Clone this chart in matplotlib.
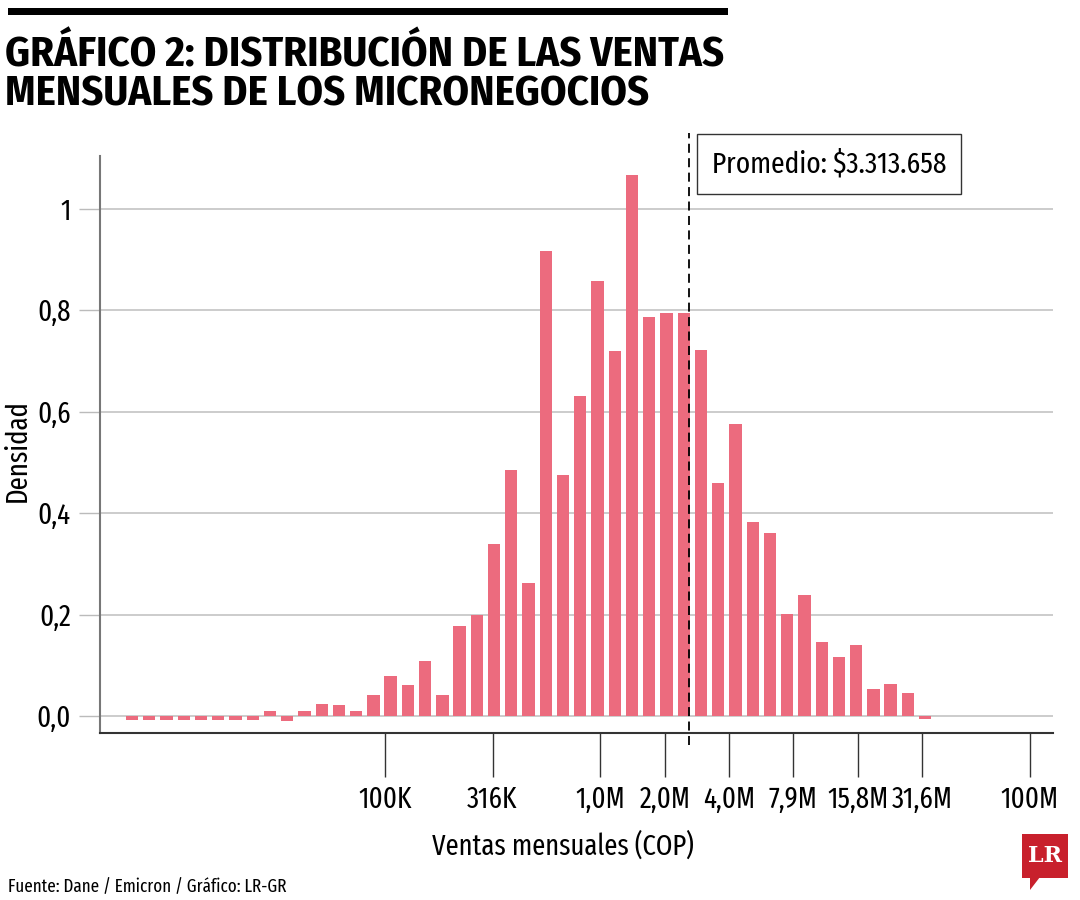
import numpy as np
import matplotlib
matplotlib.use("Agg")
import matplotlib.pyplot as plt
from matplotlib import font_manager as fm
from matplotlib.patches import Rectangle, Polygon

# ---------------- data ----------------
density = [-0.008, -0.008, -0.008, -0.008, -0.008, -0.008, -0.008, -0.008,
           0.009, -0.009, 0.009, 0.024, 0.021, 0.010, 0.041, 0.079,
           0.061, 0.109, 0.042, 0.178, 0.200, 0.339, 0.484, 0.262,
           0.917, 0.476, 0.631, 0.857, 0.720, 1.066, 0.786, 0.794,
           0.795, 0.722, 0.460, 0.575, 0.382, 0.360, 0.201, 0.238,
           0.145, 0.117, 0.139, 0.053, 0.063, 0.046, -0.005]
bin_start_log10 = 3.823      # centre of first bin (log10 COP)
bin_step_log10 = 0.0802      # bin width in log10 units
x_tick_values = [1e5, 316228, 1e6, 2e6, 4e6, 7.9e6, 15.8e6, 31.6e6, 1e8]
x_tick_labels = ["100K", "316K", "1,0M", "2,0M", "4,0M", "7,9M", "15,8M", "31,6M", "100M"]
y_tick_values = [0.0, 0.2, 0.4, 0.6, 0.8, 1.0]
y_tick_labels = ["0,0", "0,2", "0,4", "0,6", "0,8", "1"]
mean_line_x = 2.6e6
mean_label = "Promedio: $3.313.658"
title = "GRÁFICO 2: DISTRIBUCIÓN DE LAS VENTAS\nMENSUALES DE LOS MICRONEGOCIOS"
xlabel = "Ventas mensuales (COP)"
ylabel = "Densidad"
source = "Fuente: Dane / Emicron / Gráfico: LR-GR"

# ---------------- fonts ----------------
names = {f.name for f in fm.fontManager.ttflist}
FONT = "Fira Sans Extra Condensed" if "Fira Sans Extra Condensed" in names else "DejaVu Sans"
TFONT = "Fira Sans Condensed" if "Fira Sans Condensed" in names else FONT
plt.rcParams['font.family'] = [FONT, 'DejaVu Sans']

BAR = "#EC6B7E"

fig = plt.figure(figsize=(10.8, 9), dpi=100)
ax = fig.add_axes([100/1080, 1-733/900, (1053-100)/1080, (733-156)/900])

n = len(density)
centers = bin_start_log10 + bin_step_log10*np.arange(n)
half = bin_step_log10*0.714/2
lefts = 10**(centers-half)
widths = 10**(centers+half) - lefts
ax.bar(lefts, density, width=widths, align='edge', color=BAR, zorder=3)

ax.set_xscale('log')
ax.set_xlim(10**3.674, 10**8.107)
ax.set_ylim(-0.0335, 1.104)
ax.set_xticks(x_tick_values)
ax.set_xticklabels(x_tick_labels)
ax.xaxis.set_minor_locator(matplotlib.ticker.NullLocator())
ax.set_yticks(y_tick_values)
ax.set_yticklabels(y_tick_labels)
ax.tick_params(axis='x', length=32, width=1, color='#333333', labelsize=21, pad=6)
ax.tick_params(axis='y', length=15, width=1, color='#bbbbbb', labelsize=21, pad=6)
ax.grid(axis='y', color='#c4c4c4', linewidth=1.2, zorder=0)
for s in ['top', 'right']:
    ax.spines[s].set_visible(False)
ax.spines['left'].set_color('#777777')
ax.spines['left'].set_linewidth(1.5)
ax.spines['bottom'].set_color('#333333')
ax.spines['bottom'].set_linewidth(1.5)

ax.axvline(mean_line_x, ymin=-0.021, ymax=1.04, color='black', linestyle=(0, (5, 3)),
           linewidth=1.3, clip_on=False, zorder=4)
ax.text((712-100)/953, (733-164)/577, mean_label, transform=ax.transAxes, fontsize=21.4,
        ha='left', va='center',
        bbox=dict(boxstyle='square,pad=0.5', facecolor='white', edgecolor='#333333', linewidth=1))

ax.set_xlabel(xlabel, fontsize=20.8, labelpad=12)
ax.xaxis.label.set_x((562.5-100)/953)
ax.set_ylabel(ylabel, fontsize=21)
ax.yaxis.set_label_coords(-0.072, 0.49)

# title & top bar
fig.add_artist(Rectangle((8/1080, 1-15/900), 720/1080, 7/900, transform=fig.transFigure,
                         facecolor='black', edgecolor='none'))
fig.text(5/1080, 1-35/900, title, fontsize=30.6, fontweight='bold', family=[TFONT, 'DejaVu Sans'],
         ha='left', va='top', linespacing=0.95)
fig.text(8/1080, 1-887/900, source, fontsize=13.3, ha='left', va='center')

# logo
fig.add_artist(Rectangle((1022/1080, 1-878/900), 46/1080, 44/900, transform=fig.transFigure,
                         facecolor='#C8202C', edgecolor='none'))
fig.add_artist(Polygon([(1030/1080, 1-877/900), (1040/1080, 1-877/900), (1030/1080, 1-890/900)],
                       closed=True, transform=fig.transFigure, facecolor='#C8202C', edgecolor='none'))
fig.text(1045/1080, 1-856/900, "LR", fontsize=16, fontweight='bold', color='white',
         family='DejaVu Serif', ha='center', va='center')

fig.savefig("out.png", dpi=100)
